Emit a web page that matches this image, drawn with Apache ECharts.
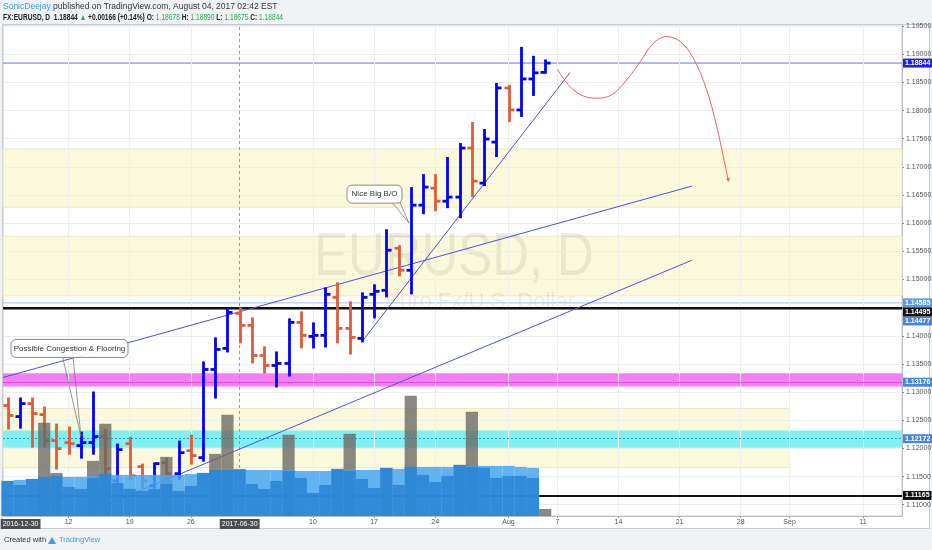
<!DOCTYPE html>
<html>
<head>
<meta charset="utf-8">
<title>EURUSD, D</title>
<script src="https://cdn.jsdelivr.net/npm/echarts@6.0.0/dist/echarts.min.js"></script>
<style>
html, body { margin: 0; padding: 0; background: #f0f3f6; }
#main { width: 932px; height: 550px; }
</style>
</head>
<body>
<div id="main"></div>
<script>
// daily bars, index 0 = 2017-06-05 ; [open, high, low, close]
var ohlc = [
    [1.12762, 1.12886, 1.12352, 1.12584],
    [1.12566, 1.12886, 1.12370, 1.12797],
    [1.12797, 1.12886, 1.12032, 1.12619],
    [1.12601, 1.12726, 1.12032, 1.12139],
    [1.12139, 1.12423, 1.11641, 1.11996],
    [1.12103, 1.12370, 1.11907, 1.12085],
    [1.12050, 1.12281, 1.11836, 1.12103],
    [1.12103, 1.12993, 1.11907, 1.12210],
    [1.12210, 1.12335, 1.11569, 1.11641],
    [1.11427, 1.12068, 1.11391, 1.11979],
    [1.12085, 1.12192, 1.11463, 1.11516],
    [1.11676, 1.11712, 1.11302, 1.11427],
    [1.11338, 1.11730, 1.11302, 1.11730],
    [1.11747, 1.11819, 1.11463, 1.11552],
    [1.11552, 1.12121, 1.11463, 1.11925],
    [1.11961, 1.12228, 1.11730, 1.11872],
    [1.11836, 1.13527, 1.11783, 1.13402],
    [1.13402, 1.13954, 1.12904, 1.13758],
    [1.13776, 1.14488, 1.13722, 1.14416],
    [1.14399, 1.14488, 1.13883, 1.14185],
    [1.14185, 1.14310, 1.13527, 1.13651],
    [1.13651, 1.13794, 1.13349, 1.13473],
    [1.13473, 1.13705, 1.13100, 1.13509],
    [1.13509, 1.14292, 1.13295, 1.14238],
    [1.14238, 1.14416, 1.13794, 1.14007],
    [1.13989, 1.14221, 1.13794, 1.14007],
    [1.14007, 1.14843, 1.13811, 1.14737],
    [1.14683, 1.14932, 1.13883, 1.14132],
    [1.14132, 1.14594, 1.13687, 1.13972],
    [1.13954, 1.14754, 1.13900, 1.14683],
    [1.14737, 1.14897, 1.14327, 1.14790],
    [1.14808, 1.15875, 1.14701, 1.15520],
    [1.15555, 1.15591, 1.15075, 1.15164],
    [1.15164, 1.16623, 1.14754, 1.16320],
    [1.16320, 1.16854, 1.16178, 1.16641],
    [1.16623, 1.16854, 1.16231, 1.16391],
    [1.16391, 1.17157, 1.16285, 1.16463],
    [1.16463, 1.17406, 1.16107, 1.17335],
    [1.17335, 1.17779, 1.16480, 1.16747],
    [1.16712, 1.17655, 1.16676, 1.17495],
    [1.17441, 1.18473, 1.17192, 1.18402],
    [1.18402, 1.18438, 1.17815, 1.18011],
    [1.18011, 1.19114, 1.17904, 1.18562],
    [1.18562, 1.18954, 1.18278, 1.18670],
    [1.18678, 1.18890, 1.18675, 1.18844]
];

// volume panes (same day index)
var volLight = [35, 36, 37, 38, 39, 39, 39, 40, 40, 41, 41, 41, 41, 41, 41, 42, 43, 45, 46, 46,
                46, 46, 46, 46, 45, 45, 45, 46, 46, 46, 46, 47, 47, 49, 49, 49, 49, 50, 50, 50,
                50, 50, 49, 48];
var volDark = [35, 31, 37, 39, 40, 29, 27, 38, 42, 33, 27, 25, 27, 32, 25, 30, 43, 46, 46, 47,
               32, 27, 35, 45, 38, 23, 31, 47, 45, 37, 28, 48, 31, 49, 41, 34, 40, 51, 49, 48,
               38, 40, 40, 38];
var volGray = [0, 0, 0, 93, 43, 0, 0, 55, 92, 0, 0, 0, 0, 59, 0, 0, 0, 62, 101, 0,
               0, 0, 0, 81, 0, 0, 0, 47, 82, 0, 0, 48, 0, 120, 0, 0, 0, 51, 104, 0,
               0, 0, 0, 0, 7];

var priceTicks = [1.110, 1.115, 1.120, 1.125, 1.130, 1.135, 1.140, 1.145, 1.150,
                  1.155, 1.160, 1.165, 1.170, 1.175, 1.180, 1.185, 1.190, 1.195];
var dateTickIdx = [1.07, 5, 10, 15, 19, 25, 30, 35, 41, 45, 50, 55, 60, 64, 70];
var dateTickText = ['2016-12-30', '12', '19', '26', '2017-06-30', '10', '17', '24', 'Aug',
                    '7', '14', '21', '28', 'Sep', '11'];
var gridDays = [5, 10, 15, 25, 30, 35, 41, 45, 50, 55, 60, 64, 70];
var markedDay = 19;

// drawings
var zoneUpper = [1.16285, 1.17317];
var zoneMid = [1.14710, 1.15769];
var zoneLow = [1.11658, 1.12708];
var zoneLowEnd = 64;
var bandCyan = [1.12014, 1.12317];
var bandMagenta = [1.13100, 1.13337];
var lastPrice = 1.18844;
var levelTop = 1.14585;
var levelBlack = [1.14495, 1.11165];
var levelBlue = [1.14477, 1.13176];
var levelDashed = 1.12172;
var trendUpper = [[-0.37, 1.13260], [56.0, 1.16658]];
var trendLower = [[5.93, 1.10804], [56.0, 1.15342]];
var trendSteep = [[29.09, 1.13918], [46.03, 1.18674]];
var forecastPath = [[44.99, 1.18735], [46.03, 1.18425], [47.12, 1.18260], [48.22, 1.18219],
                    [49.44, 1.18278], [50.67, 1.18544], [51.78, 1.18870], [52.85, 1.19197],
                    [53.94, 1.19315], [55.05, 1.19226], [56.12, 1.18931], [57.22, 1.18367],
                    [58.04, 1.17714], [58.58, 1.17180], [58.98, 1.16765]];
var noteBO = { text: 'Nice Big B/O', box: [30.03, 1.16516], tip: [32.86, 1.16000] };
var noteFloor = { text: 'Possible Congestion & Flooring', box: [5.07, 1.13776], tip: [6.01, 1.12210] };

var X_MIN = -0.37, X_MAX = 73.2;
var Y_MIN = 1.108, Y_MAX = 1.1952;
var UP = '#0000ff', DOWN = '#de5b3c';
var FONT = 'Liberation Sans, Arial, sans-serif';

var chart = echarts.init(document.getElementById('main'));

function renderBar(params, api) {
    var i = api.value(0);
    var o = api.coord([i, api.value(1)]);
    var h = api.coord([i, api.value(2)]);
    var l = api.coord([i, api.value(3)]);
    var c = api.coord([i, api.value(4)]);
    var color = api.value(4) >= api.value(1) ? UP : DOWN;
    var x = Math.round(h[0]) + 0.5;
    var st = { stroke: color, lineWidth: 2.8 };
    return {
        type: 'group',
        children: [
            { type: 'line', shape: { x1: x, y1: h[1] - 1, x2: x, y2: l[1] + 1 }, style: st },
            { type: 'line', shape: { x1: x - 5, y1: o[1], x2: x, y2: o[1] }, style: st },
            { type: 'line', shape: { x1: x, y1: c[1], x2: x + 5, y2: c[1] }, style: st }
        ]
    };
}

function volRender(color) {
    return function (params, api) {
        var i = api.value(0), v = api.value(1);
        if (!v) return;
        var a = api.coord([i - 0.5, v]);
        var b = api.coord([i + 0.5, 0]);
        return { type: 'rect', shape: { x: a[0], y: a[1], width: b[0] - a[0], height: b[1] - a[1] }, style: { fill: color } };
    };
}

function volSeries(name, arr, color) {
    return {
        name: name, type: 'custom', xAxisIndex: 0, yAxisIndex: 1, z: 7, silent: true,
        renderItem: volRender(color),
        encode: { x: 0, y: 1 },
        data: arr.map(function (v, i) { return [i, v]; })
    };
}

// price tag on the right scale; shift moves the tag down so stacked tags do not overlap
function tag(price, lineColor, width, bg, lineType, shift) {
    return {
        yAxis: price,
        lineStyle: { color: lineColor, width: width, type: lineType || 'solid' },
        label: { backgroundColor: bg, offset: [0, shift || 0] }
    };
}

function flatLine(name, price, color, z) {
    return {
        name: name, type: 'line', z: z, silent: true, showSymbol: false,
        lineStyle: { color: color, width: 1 },
        data: [[X_MIN, price], [X_MAX, price]]
    };
}

var zoneStyle = { color: '#fbf9dc', borderColor: '#ebe8c8', borderWidth: 1 };
var NONE = 'rgba(0,0,0,0)';

var option = {
    animation: false,
    grid: {
        left: 3, right: 30, top: 25, bottom: 34,
        show: true, backgroundColor: '#fff', borderColor: '#c8ccd0', borderWidth: 1,
        containLabel: false, outerBoundsMode: 'none'
    },
    xAxis: {
        type: 'value', min: X_MIN, max: X_MAX,
        splitLine: { show: false },
        axisLine: { show: true, onZero: false, lineStyle: { color: '#b9bdc2' } },
        axisTick: { show: true, length: 2, customValues: gridDays, lineStyle: { color: '#999' } },
        axisLabel: {
            customValues: dateTickIdx,
            fontSize: 7, color: '#555', margin: 3, fontFamily: FONT,
            formatter: function (v) {
                for (var k = 0; k < dateTickIdx.length; k++) {
                    if (Math.abs(dateTickIdx[k] - v) < 0.01) {
                        var t = dateTickText[k];
                        return t.length > 5 ? '{box|' + t + '}' : t;
                    }
                }
                return '';
            },
            rich: { box: { backgroundColor: '#4d4d4d', color: '#fff', fontSize: 7, padding: [2, 2, 1, 2] } }
        }
    },
    yAxis: [{
        type: 'value', position: 'right', min: Y_MIN, max: Y_MAX,
        splitLine: { show: false },
        axisLine: { show: true, onZero: false, lineStyle: { color: '#b9bdc2' } },
        axisTick: { show: true, length: 2, customValues: priceTicks, lineStyle: { color: '#888' } },
        axisLabel: {
            customValues: priceTicks, fontSize: 7, color: '#555', margin: 4, fontFamily: FONT,
            formatter: function (v) { return v.toFixed(5); }
        }
    }, {
        type: 'value', min: 0, max: 490, show: false,
        axisLine: { show: false, onZero: false }, axisTick: { show: false }, axisLabel: { show: false }, splitLine: { show: false }
    }],
    series: [
        {
            name: 'zones', type: 'line', data: [], z: 1, silent: true,
            markArea: {
                silent: true,
                data: [
                    [{ yAxis: zoneUpper[0], itemStyle: zoneStyle }, { yAxis: zoneUpper[1] }],
                    [{ yAxis: zoneMid[0], itemStyle: zoneStyle }, { yAxis: zoneMid[1] }],
                    [{ xAxis: X_MIN, yAxis: zoneLow[0], itemStyle: zoneStyle }, { xAxis: zoneLowEnd, yAxis: zoneLow[1] }]
                ]
            }
        },
        {
            name: 'grid lines', type: 'line', data: [], z: 2, silent: true,
            markLine: {
                silent: true, symbol: ['none', 'none'], label: { show: false }, precision: 5,
                lineStyle: { color: '#eceef1', width: 1, type: 'solid' },
                data: priceTicks.map(function (p) { return { yAxis: p }; })
                    .concat(gridDays.map(function (d) { return { xAxis: d }; }))
            }
        },
        {
            name: 'bands', type: 'line', data: [], z: 3, silent: true,
            markArea: {
                silent: true,
                data: [
                    [{ yAxis: bandCyan[0], itemStyle: { color: '#80f1ee' } }, { yAxis: bandCyan[1] }],
                    [{ yAxis: bandMagenta[0], itemStyle: { color: '#f47ef4' } }, { yAxis: bandMagenta[1] }]
                ]
            },
            markLine: {
                silent: true, symbol: ['none', 'none'], label: { show: false },
                data: [{ xAxis: markedDay, lineStyle: { color: '#9a9a9a', width: 1, type: [3, 3] } }]
            }
        },
        flatLine('last price', lastPrice, '#6e6ef0', 4),
        flatLine('level top', levelTop, '#a8c0ea', 4),
        {
            name: 'levels', type: 'line', data: [], z: 9, silent: true, clip: false,
            markLine: {
                silent: true, symbol: ['none', 'none'], precision: 5,
                label: {
                    show: true, position: 'end', distance: 1, color: '#fff', fontSize: 7, fontWeight: 'bold',
                    fontFamily: FONT, padding: [1, 2, 1, 2],
                    formatter: function (p) { return Number(p.value).toFixed(5); }
                },
                data: [
                    tag(lastPrice, NONE, 1, '#1f1fe6'),
                    tag(levelTop, NONE, 1, '#5c9ce0'),
                    tag(levelBlue[0], '#4a86d8', 1, '#4a86d8', 'solid', 12),
                    tag(levelBlack[0], '#111', 2, '#111', 'solid', 4),
                    tag(levelBlue[1], '#e24fe2', 1, '#4a86d8'),
                    tag(levelDashed, '#3a8fd8', 1, '#4a86d8', [2, 2]),
                    tag(levelBlack[1], '#111', 2, '#111')
                ]
            }
        },
        { name: 'trend upper', type: 'line', z: 5, silent: true, showSymbol: false, data: trendUpper, lineStyle: { color: '#5050dc', width: 1 } },
        { name: 'trend lower', type: 'line', z: 5, silent: true, showSymbol: false, data: trendLower, lineStyle: { color: '#5050dc', width: 1 } },
        { name: 'trend steep', type: 'line', z: 5, silent: true, showSymbol: false, data: trendSteep, lineStyle: { color: '#5050dc', width: 1 } },
        {
            name: 'forecast', type: 'line', z: 5, silent: true, smooth: 0.35, symbol: 'none', showSymbol: true,
            lineStyle: { color: '#e8635e', width: 1 },
            data: forecastPath.map(function (p, k) {
                return k === forecastPath.length - 1
                    ? { value: p, symbol: 'triangle', symbolSize: 4, symbolRotate: 180, itemStyle: { color: '#e8635e' } }
                    : p;
            })
        },
        {
            name: 'EURUSD', type: 'custom', z: 6, silent: true,
            renderItem: renderBar,
            encode: { x: 0, y: [1, 2, 3, 4] },
            data: ohlc.map(function (r, i) { return [i, r[0], r[1], r[2], r[3]]; })
        },
        volSeries('vol gray', volGray, 'rgba(105,104,96,0.78)'),
        volSeries('vol avg', volLight, 'rgba(70,166,240,0.85)'),
        volSeries('vol', volDark, 'rgba(40,130,210,0.82)')
    ]
};

chart.setOption(option);

function callout(n, w, base) {
    var a = chart.convertToPixel({ gridIndex: 0 }, n.box);
    var t = chart.convertToPixel({ gridIndex: 0 }, n.tip);
    var h = 18, x0 = a[0] - w / 2, y0 = a[1] - h / 2;
    return [
        { type: 'polyline', z: 20, silent: true,
          shape: { points: [[x0 + w * base[0], y0 + h - 1], [t[0], t[1]], [x0 + w * base[1], y0 + h - 1]] },
          style: { stroke: '#7a7a7a', fill: null, lineWidth: 0.8 } },
        { type: 'rect', z: 21, silent: true, shape: { x: x0, y: y0, width: w, height: h, r: 5 },
          style: { fill: 'rgba(255,255,255,0.92)', stroke: '#8a8a8a', lineWidth: 1 } },
        { type: 'text', z: 22, silent: true, x: a[0], y: a[1],
          style: { text: n.text, align: 'center', verticalAlign: 'middle', fontSize: 8, fill: '#333', fontFamily: FONT } }
    ];
}

var graphics = [
    { type: 'rect', z: -10, silent: true, shape: { x: 2.5, y: 24.5, width: 927, height: 504 },
      style: { fill: '#fff', stroke: '#c5c9ce', lineWidth: 1 } },
    { type: 'text', z: 2, silent: true, x: 454, y: 258, scaleX: 0.82,
      style: { text: 'EURUSD, D', fontSize: 62, fill: 'rgba(0,0,0,0.075)', align: 'center', verticalAlign: 'middle', fontFamily: FONT } },
    { type: 'text', z: 2, silent: true, x: 480, y: 302,
      style: { text: 'Euro Fx/U.S. Dollar', fontSize: 22, fill: 'rgba(0,0,0,0.075)', align: 'center', verticalAlign: 'middle', fontFamily: FONT } },
    { type: 'text', z: 30, silent: true, x: 3, y: 2,
      style: {
          text: '{u|SonicDeejay} published on TradingView.com, August 04, 2017 02:42 EST',
          fontSize: 8.5, fill: '#333', fontFamily: FONT,
          rich: { u: { fill: '#3e9ad8', fontSize: 8.5, fontFamily: FONT } }
      } },
    { type: 'text', z: 30, silent: true, x: 3, y: 13, scaleX: 0.78,
      style: {
          text: 'FX:EURUSD, D  1.18844 {g|\u25B2} +0.00166 (+0.14%) O: {g|1.18678} H: {g|1.18890} L: {g|1.18675} C: {g|1.18844}',
          fontSize: 8.5, fill: '#222', fontWeight: 'bold', fontFamily: FONT,
          rich: { g: { fill: '#2fa84f', fontSize: 8.5, fontWeight: 'normal', fontFamily: FONT } }
      } },
    { type: 'text', z: 30, silent: true, x: 4, y: 536,
      style: { text: 'Created with', fontSize: 7.5, fill: '#333', fontFamily: FONT } },
    { type: 'polygon', z: 30, silent: true, shape: { points: [[48, 544], [52, 537], [56, 544]] },
      style: { fill: '#4a9ad6' } },
    { type: 'text', z: 30, silent: true, x: 59, y: 536,
      style: { text: 'TradingView', fontSize: 7.5, fill: '#4a9ad6', fontFamily: FONT } }
];

graphics = graphics.concat(callout(noteBO, 55, [0.82, 0.96]), callout(noteFloor, 117, [0.44, 0.53]));
chart.setOption({ graphic: graphics });
</script>
</body>
</html>
